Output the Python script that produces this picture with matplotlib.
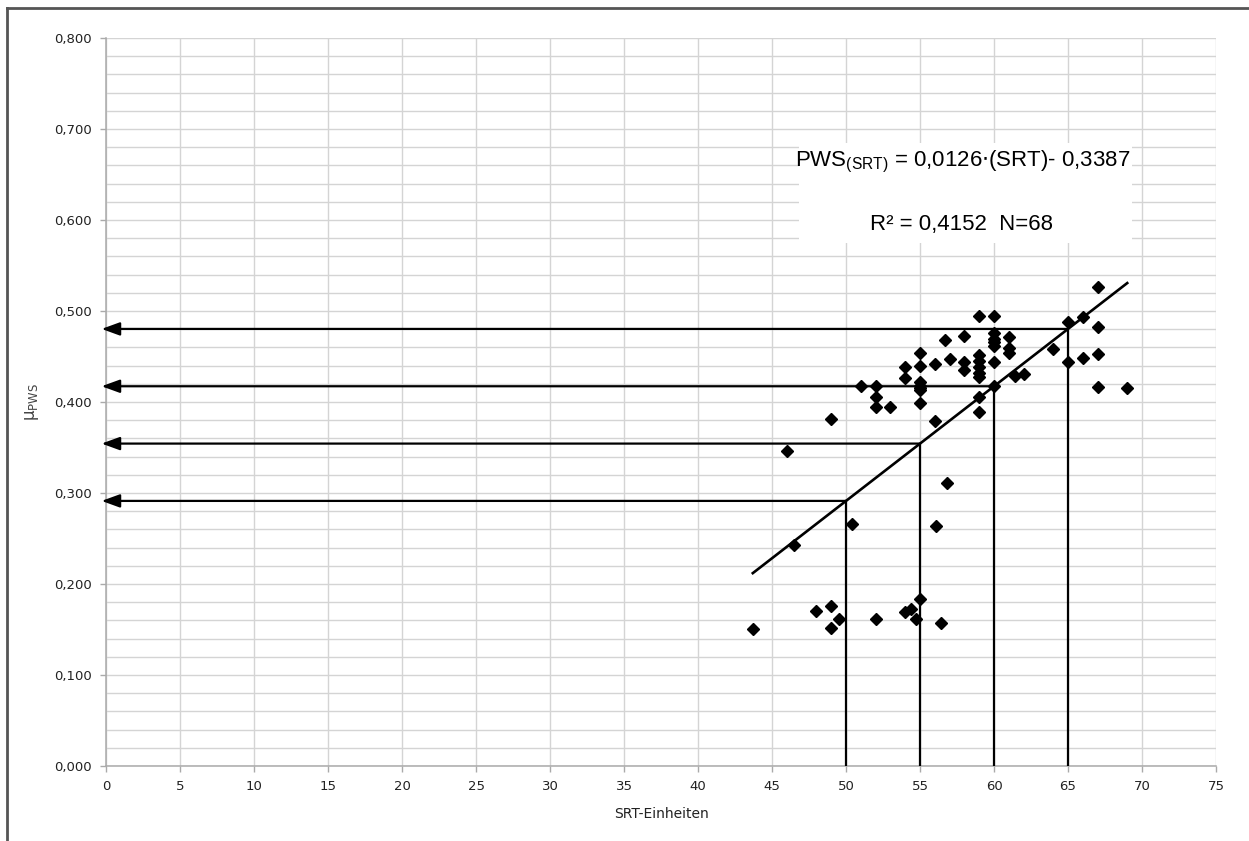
import numpy as np
import matplotlib.pyplot as plt
from matplotlib.lines import Line2D
from matplotlib.patches import Rectangle
from matplotlib.ticker import MultipleLocator, FuncFormatter

## Messwerte: SRT-Einheiten gegen mu_PWS
srt = [43.7, 46.5, 48.0, 49.0, 49.0, 49.5, 50.4, 52.0, 54.0, 54.4, 54.7, 55.0, 56.1, 56.4, 56.8,
       46.0, 49.0, 51.0, 52.0, 52.0, 52.0, 53.0, 54.0, 54.0,
       55.0, 55.0, 55.0, 55.0, 55.0, 55.0, 55.0,
       56.0, 56.0, 56.7, 57.0, 58.0, 58.0, 58.0,
       59.0, 59.0, 59.0, 59.0, 59.0, 59.0, 59.0, 59.0,
       60.0, 60.0, 60.0, 60.0, 60.0, 60.0, 60.0,
       61.0, 61.0, 61.0, 61.4, 62.0,
       64.0, 65.0, 65.0, 66.0, 66.0, 67.0, 67.0, 67.0, 67.0, 69.0]
pws = [0.151, 0.243, 0.170, 0.176, 0.152, 0.161, 0.266, 0.161, 0.169, 0.172, 0.161, 0.184, 0.264, 0.157, 0.311,
       0.346, 0.381, 0.418, 0.418, 0.406, 0.395, 0.395, 0.439, 0.426,
       0.454, 0.440, 0.422, 0.418, 0.415, 0.413, 0.399,
       0.442, 0.379, 0.468, 0.447, 0.472, 0.444, 0.435,
       0.495, 0.452, 0.445, 0.438, 0.432, 0.428, 0.406, 0.389,
       0.495, 0.476, 0.469, 0.466, 0.462, 0.444, 0.418,
       0.471, 0.459, 0.454, 0.429, 0.431,
       0.458, 0.488, 0.444, 0.493, 0.448, 0.526, 0.482, 0.453, 0.417, 0.415]

## Regressionsgerade
slope = 0.0126
intercept = -0.3387
r2 = 0.4152
readings = [50, 55, 60, 65]   # Ablesestellen mit Pfeilen

fig = plt.figure(num=None, figsize=(12.49, 8.41), dpi=100, facecolor='w')
ax = fig.add_axes([0.0849, 0.0892, 0.8887, 0.8656])

ax.set_xlim(0, 75)
ax.set_ylim(0, 0.8)
ax.xaxis.set_major_locator(MultipleLocator(5))
ax.yaxis.set_major_locator(MultipleLocator(0.1))
ax.yaxis.set_minor_locator(MultipleLocator(0.02))
ax.yaxis.set_major_formatter(FuncFormatter(lambda v, p: ('%.3f' % v).replace('.', ',')))

ax.grid(True, which='major', axis='x', color='#d4d4d4', lw=1.0, zorder=0)
ax.grid(True, which='both', axis='y', color='#d4d4d4', lw=1.0, zorder=0)
ax.set_axisbelow(True)

for s in ['top', 'right']:
    ax.spines[s].set_visible(False)
for s in ['left', 'bottom']:
    ax.spines[s].set_color('#aaaaaa')
    ax.spines[s].set_linewidth(1.1)
ax.tick_params(which='major', length=4, width=1, color='#aaaaaa', labelsize=9.5, labelcolor='#222222', pad=6)
ax.tick_params(which='minor', length=0)

## Punkte
ax.plot(srt, pws, 'D', color='black', markersize=6, zorder=4)

## Gerade ueber den Messbereich
xl = np.array([min(srt), max(srt)])
ax.plot(xl, slope * xl + intercept, color='black', lw=1.9, zorder=3)

## Ablesehilfen: senkrecht bis zur Geraden, dann Pfeil zur y-Achse
for xr in readings:
    yr = slope * xr + intercept
    ax.plot([xr, xr], [0, yr], color='black', lw=1.6, zorder=3)
    ax.annotate('', xy=(-0.3, yr), xytext=(xr, yr), annotation_clip=False,
                arrowprops=dict(arrowstyle='-|>,head_length=1.1,head_width=0.4',
                                color='black', lw=1.6, shrinkA=0, shrinkB=0), zorder=3)

## Formelkasten
ax.add_patch(Rectangle((46.8, 0.575), 22.5, 0.11, facecolor='white', edgecolor='none', zorder=2))
ax.text(57.9, 0.664, r'PWS$_{\mathregular{(SRT)}}$ = 0,0126$\cdot$(SRT)- 0,3387',
        ha='center', va='center', fontsize=16, family='Liberation Sans', zorder=5)
ax.text(57.8, 0.595, 'R² = ' + ('%.4f' % r2).replace('.', ',') + '  N=' + str(len(srt)),
        ha='center', va='center', fontsize=16, family='Liberation Sans', zorder=5)

ax.set_xlabel('SRT-Einheiten', fontsize=10, color='#222222', labelpad=10)
ax.set_ylabel(r'$\mathregular{\mu_{PWS}}$', fontsize=12, color='#444444', labelpad=10)

## Rahmen oben und links
fig.add_artist(Line2D([7 / 1249, 1.0], [1 - 8 / 841, 1 - 8 / 841], color='#555555', lw=2))
fig.add_artist(Line2D([7 / 1249, 7 / 1249], [0, 1 - 8 / 841], color='#555555', lw=2))

plt.savefig('out.png', dpi=100)
